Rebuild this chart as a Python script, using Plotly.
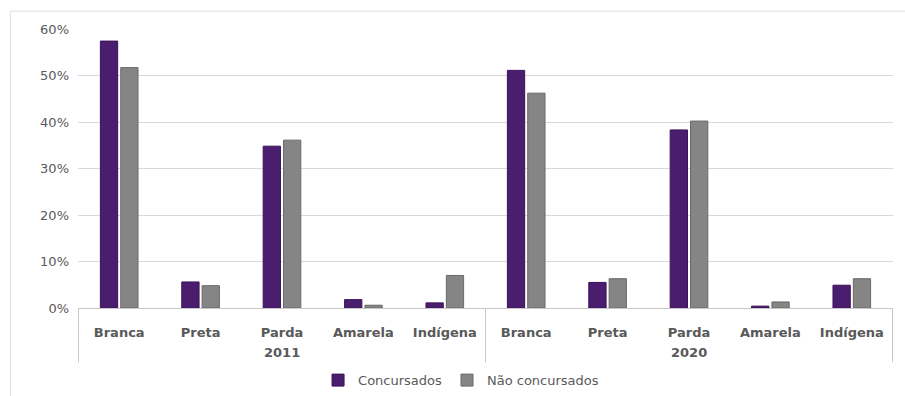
import plotly.graph_objects as go

years = ["2011"] * 5 + ["2020"] * 5
categories = ["Branca", "Preta", "Parda", "Amarela", "Indígena"] * 2
concursados = [57.4, 5.6, 34.8, 1.8, 1.1, 51.1, 5.5, 38.3, 0.4, 4.9]
nao_concursados = [51.7, 4.8, 36.1, 0.6, 7.0, 46.2, 6.3, 40.2, 1.3, 6.3]
yticks = [0, 10, 20, 30, 40, 50, 60]

keys = [f"{y} {c}" for y, c in zip(years, categories)]

fig = go.Figure()
fig.add_bar(x=keys, y=[v / 100 for v in concursados], name="Concursados",
            marker=dict(color="#4b1d6e", line=dict(color="#3a1258", width=1)))
fig.add_bar(x=keys, y=[v / 100 for v in nao_concursados], name="Não concursados",
            marker=dict(color="#858585", line=dict(color="#6a6a6a", width=1)))

fig.update_layout(
    width=905, height=396,
    margin=dict(l=78, r=12, t=29, b=88, autoexpand=False),
    paper_bgcolor="white", plot_bgcolor="white",
    barmode="group", bargap=0.5, bargroupgap=0.15,
    font=dict(family="DejaVu Sans, sans-serif", color="#595959"),
    legend=dict(orientation="h", x=0.47, xanchor="center", yref="container",
                y=0.04, yanchor="middle",
                font=dict(size=13, color="#595959", family="DejaVu Sans, sans-serif"),
                itemwidth=30, traceorder="normal"),
    showlegend=True,
)
fig.update_yaxes(range=[0, 0.6], tickvals=[t / 100 for t in yticks],
                 ticktext=[f"{t}%" for t in yticks],
                 showgrid=True, gridcolor="#d9d9d9", gridwidth=1,
                 zeroline=False, showline=False,
                 tickfont=dict(size=13, color="#595959", family="DejaVu Sans, sans-serif"),
                 ticks="", ticklabelstandoff=8)
fig.update_xaxes(type="category", categoryorder="array", categoryarray=keys,
                 tickvals=keys, ticktext=categories, tickangle=0,
                 showline=True, linecolor="#c8c8c8",
                 tickfont=dict(size=13, color="#595959", family="DejaVu Sans, sans-serif",
                               weight="bold"),
                 ticks="", ticklabelstandoff=12)

# year group labels and dividers
for yr in sorted(set(years)):
    idx = [i for i, y in enumerate(years) if y == yr]
    mid = keys[idx[len(idx) // 2]]
    fig.add_annotation(x=mid, xref="x", y=-0.158, yref="paper", text=f"<b>{yr}</b>",
                       showarrow=False, yanchor="middle",
                       font=dict(size=13, color="#595959", family="DejaVu Sans, sans-serif"))
    for edge in (idx[0] - 0.5, idx[-1] + 0.5):
        fig.add_shape(type="line", xref="x", yref="paper", x0=edge, x1=edge, y0=0, y1=-0.194,
                      line=dict(color="#c8c8c8", width=1))

# outer chart border
fig.add_shape(type="line", xref="paper", yref="paper", x0=-0.083, x1=1.02, y0=1.064, y1=1.064,
              line=dict(color="#e0e0e0", width=1))
fig.add_shape(type="line", xref="paper", yref="paper", x0=-0.083, x1=-0.083, y0=-0.4, y1=1.064,
              line=dict(color="#e0e0e0", width=1))

fig.write_html("out.html")
